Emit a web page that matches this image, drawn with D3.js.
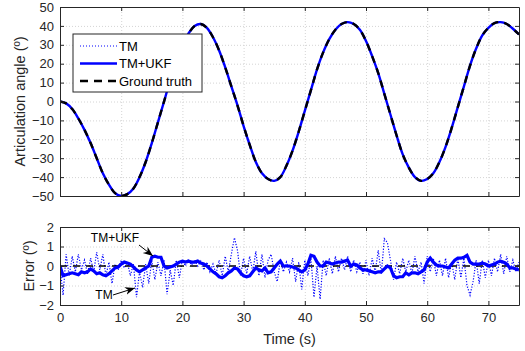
<!DOCTYPE html>
<html>
<head>
<meta charset="utf-8">
<script src="https://cdn.jsdelivr.net/npm/d3@7"></script>
<style>
  body { margin: 0; background: #fff; }
  svg { font-family: "Liberation Sans", Arial, sans-serif; }
  .axis path, .axis line { stroke: #262626; }
  .axis text { fill: #262626; font-size: 13px; }
  .grid line { stroke: #d4d4d4; stroke-dasharray: 1,2; }
  .grid path { display: none; }
</style>
</head>
<body>
<div id="chart"></div>
<script>
// time base for the articulation angle (1 s) and the error traces (0.5 s)
const angleTime = d3.range(0, 76, 1)
const errTime = d3.range(0, 75.5, 0.5)

// ground truth articulation angle (deg), one value per second
const groundTruth = [
  0, -1, -4, -9, -15, -22, -30, -38, -44, -48.5,
  -50, -49, -46, -40, -32, -22, -11, 0, 11, 21,
  30, 36, 40, 41, 39, 34, 27, 18, 8, -2,
  -13, -23, -32, -38, -41, -42, -40, -34, -26, -16,
  -5, 6, 17, 26, 33, 38, 41, 42, 41, 38,
  32, 24, 15, 4, -7, -18, -28, -35, -40, -42,
  -41, -38, -32, -24, -14, -3, 8, 19, 28, 35,
  39, 41.5, 42, 41, 38.5, 35.5
]

// TM error (deg), every 0.5 s
const tmErr = [
  0.0, -1.5, 0.6, -0.5, 0.5, -0.3, 0.6, -0.2, 0.3, -0.4,
  0.4, -0.3, 0.7, -0.2, 0.6, -0.5, 0.2, -0.9, 0.1, -0.2,
  0.3, -0.1, 0.2, -0.5, 0.1, -1.6, -0.3, -1.1, 0.1, -0.9,
  0.3, -0.7, 0.2, -0.5, 0.3, -1.45, -0.2, -1.0, 0.3, -0.6,
  0.3, 0.0, 0.35, 0.05, 0.3, 0.0, 0.25, -0.2, 0.2, -0.3,
  0.1, -0.4, 0.3, -0.5, 0.5, -0.3, 0.6, 1.45, 0.8, -0.5,
  0.4, -0.4, 0.5, -0.3, 0.75, -0.5, 0.6, -0.6, 0.3, 0.6,
  -0.3, -0.8, 0.3, -0.3, 0.2, -0.3, 0.4, -0.8, 0.2, -1.2,
  0.3, -0.5, 0.4, -1.6, 0.0, -1.7, 0.3, -0.5, 0.4, -0.4,
  0.5, -0.3, 0.4, -0.2, 0.5, -0.3, 0.3, -0.3, 0.2, -0.4,
  0.3, -0.5, 0.4, -0.3, 0.8, -0.4, 1.4, 1.2, 0.3, -0.7,
  0.2, -0.4, 0.4, -0.3, 0.3, -0.4, 0.5, -0.3, 0.2, -0.9,
  0.5, -0.3, 0.4, -0.5, 0.3, -0.5, 0.4, -0.6, 0.2, -0.7,
  0.4, -0.6, 0.4, -1.0, -1.5, -0.8, 0.3, -0.9, 0.3, -0.6,
  0.3, -0.5, 0.4, -0.3, 0.6, -0.4, 0.5, -0.3, 0.3, -0.3,
  0.2
]

// TM+UKF error (deg), every 0.5 s
const ukfErr = [
  0.0, -0.5, -0.45, -0.4, -0.35, -0.4, -0.45, -0.3, -0.35, -0.3,
  -0.15, -0.25, -0.4, -0.35, -0.45, -0.5, -0.4, -0.25, -0.1, -0.05,
  0.1, 0.2, 0.15, 0.1, -0.05, -0.2, -0.3, -0.2, -0.1, 0.0,
  0.45, 0.5, 0.45, 0.45, 0.0, -0.1, -0.05, 0.0, 0.1, 0.2,
  0.25, 0.2, 0.25, 0.2, 0.2, 0.25, 0.15, 0.1, 0.0, -0.15,
  -0.3, -0.4, -0.55, -0.6, -0.5, -0.35, -0.25, -0.1, -0.15, -0.35,
  -0.5, -0.55, -0.5, -0.3, -0.1, -0.2, -0.25, -0.1, -0.35, -0.3,
  -0.1, 0.1, 0.25, 0.0, 0.0, 0.0, -0.05, -0.1, -0.2, -0.3,
  -0.2, 0.1, 0.55, 0.5, 0.2, 0.0, 0.0, 0.2, 0.15, 0.1,
  0.15, 0.2, 0.2, 0.25, 0.3, 0.0, 0.1, 0.05, -0.1, -0.2,
  -0.2, -0.25, -0.3, -0.35, -0.3, -0.3, -0.15, 0.0, -0.1, -0.5,
  -0.6, -0.55, -0.55, -0.35, -0.45, -0.35, -0.35, -0.4, -0.3, -0.2,
  0.2, 0.4, 0.2, 0.05, 0.0, 0.0, -0.05, -0.1, 0.1, 0.3,
  0.4, 0.4, 0.45, 0.55, 0.2, 0.1, 0.1, 0.1, 0.15, 0.1,
  0.0, 0.05, 0.1, 0.2, 0.25, 0.2, 0.1, -0.1, -0.1, -0.15,
  -0.2
]

const xTicks = [0, 10, 20, 30, 40, 50, 60, 70]
const angleTicks = [-50, -40, -30, -20, -10, 0, 10, 20, 30, 40, 50]
const errTicks = [-2, -1, 0, 1, 2]
const legendLabels = ['TM', 'TM+UKF', 'Ground truth']

const W = 525, H = 351
const blue = '#0000ff'

let svg = d3.select('#chart').append('svg')
    .attr('width', W)
    .attr('height', H)

let x = d3.scaleLinear().domain([0, 75]).range([60, 519])
let yA = d3.scaleLinear().domain([-50, 50]).range([196, 7])
let yE = d3.scaleLinear().domain([-2, 2]).range([305, 227])

function panel(y, yTicks, clipId) {
    let top = y.range()[1], bottom = y.range()[0]
    let left = x.range()[0], right = x.range()[1]
    // grid
    svg.append('g').attr('class', 'grid')
        .attr('transform', `translate(0,${bottom})`)
        .call(d3.axisBottom(x).tickValues(xTicks).tickSize(-(bottom - top)).tickFormat(''))
    svg.append('g').attr('class', 'grid')
        .attr('transform', `translate(${left},0)`)
        .call(d3.axisLeft(y).tickValues(yTicks).tickSize(-(right - left)).tickFormat(''))
    svg.append('clipPath').attr('id', clipId)
        .append('rect')
        .attr('x', left).attr('y', top)
        .attr('width', right - left).attr('height', bottom - top)
    return svg.append('g').attr('clip-path', `url(#${clipId})`)
}

function frame(y, yTicks, showX) {
    let top = y.range()[1], bottom = y.range()[0]
    let left = x.range()[0], right = x.range()[1]
    let bx = svg.append('g').attr('class', 'axis')
        .attr('transform', `translate(0,${bottom})`)
        .call(d3.axisBottom(x).tickValues(xTicks).tickSize(-4).tickSizeOuter(0).tickPadding(8))
    if (!showX) bx.selectAll('text').remove()
    svg.append('g').attr('class', 'axis')
        .attr('transform', `translate(0,${top})`)
        .call(d3.axisTop(x).tickValues(xTicks).tickSize(-4).tickSizeOuter(0).tickFormat(''))
    svg.append('g').attr('class', 'axis')
        .attr('transform', `translate(${left},0)`)
        .call(d3.axisLeft(y).tickValues(yTicks).tickSize(-4).tickSizeOuter(0).tickPadding(6).tickFormat(d3.format('d')))
    svg.append('g').attr('class', 'axis')
        .attr('transform', `translate(${right},0)`)
        .call(d3.axisRight(y).tickValues(yTicks).tickSize(-4).tickSizeOuter(0).tickFormat(''))
    svg.selectAll('.axis .domain').attr('stroke-width', 1)
    svg.selectAll('.axis text').attr('font-size', 13).attr('font-family', '"Liberation Sans", Arial, sans-serif')
}

// --- top panel: articulation angle
let gA = panel(yA, angleTicks, 'clipA')
let angleLine = d3.line()
    .x((d, i) => x(angleTime[i]))
    .y(d => yA(d))
    .curve(d3.curveCatmullRom)
gA.append('path').datum(groundTruth)
    .attr('d', angleLine).attr('fill', 'none')
    .attr('stroke', blue).attr('stroke-width', 1).attr('stroke-dasharray', '1,2')
gA.append('path').datum(groundTruth)
    .attr('d', angleLine).attr('fill', 'none')
    .attr('stroke', blue).attr('stroke-width', 2.4)
gA.append('path').datum(groundTruth)
    .attr('d', angleLine).attr('fill', 'none')
    .attr('stroke', '#000').attr('stroke-width', 2.4).attr('stroke-dasharray', '7,6')
frame(yA, angleTicks, false)

// --- bottom panel: error
let gE = panel(yE, errTicks, 'clipE')
let errLine = d3.line()
    .x((d, i) => x(errTime[i]))
    .y(d => yE(d))
gE.append('path').datum(tmErr)
    .attr('d', errLine).attr('fill', 'none')
    .attr('stroke', blue).attr('stroke-width', 1.2).attr('stroke-dasharray', '1.2,1.6')
gE.append('path').datum(errTime.map(() => 0))
    .attr('d', errLine).attr('fill', 'none')
    .attr('stroke', '#000').attr('stroke-width', 1.6).attr('stroke-dasharray', '7,6')
gE.append('path').datum(ukfErr)
    .attr('d', errLine).attr('fill', 'none')
    .attr('stroke', blue).attr('stroke-width', 3.2)
frame(yE, errTicks, true)

// axis labels
svg.append('text')
    .attr('transform', `translate(25,${yA(0)}) rotate(-90)`)
    .attr('text-anchor', 'middle')
    .attr('fill', '#262626').attr('font-size', 14.5)
    .text('Articulation angle (º)')
svg.append('text')
    .attr('transform', `translate(34,${yE(0)}) rotate(-90)`)
    .attr('text-anchor', 'middle')
    .attr('fill', '#262626').attr('font-size', 14.5)
    .text('Error (º)')
svg.append('text')
    .attr('x', x(37.5)).attr('y', 344)
    .attr('text-anchor', 'middle')
    .attr('fill', '#262626').attr('font-size', 14.5)
    .text('Time (s)')

// legend
let leg = svg.append('g')
leg.append('rect')
    .attr('x', 73).attr('y', 34).attr('width', 129).attr('height', 58)
    .attr('fill', '#fff').attr('stroke', '#262626').attr('stroke-width', 1)
let legStyles = [
    { c: blue, w: 1, dash: '1,2' },
    { c: blue, w: 2.4, dash: null },
    { c: '#000', w: 2.4, dash: '8,6' }
]
legendLabels.forEach((lab, i) => {
    let ly = 46 + i * 17.5
    leg.append('line')
        .attr('x1', 80).attr('x2', 117).attr('y1', ly).attr('y2', ly)
        .attr('stroke', legStyles[i].c).attr('stroke-width', legStyles[i].w)
        .attr('stroke-dasharray', legStyles[i].dash)
    leg.append('text')
        .attr('x', 119).attr('y', ly + 4.5)
        .attr('fill', '#000').attr('font-size', 13)
        .text(lab)
})

// annotations
let defs = svg.append('defs')
defs.append('marker')
    .attr('id', 'arr')
    .attr('viewBox', '0 0 10 10')
    .attr('refX', 10).attr('refY', 5)
    .attr('markerWidth', 10).attr('markerHeight', 10)
    .attr('markerUnits', 'userSpaceOnUse')
    .attr('orient', 'auto')
    .append('path').attr('d', 'M0,1 L10,5 L0,9 L3,5 Z').attr('fill', '#000')

svg.append('text').attr('x', 115).attr('y', 242)
    .attr('text-anchor', 'middle').attr('font-size', 12).attr('fill', '#000')
    .text('TM+UKF')
svg.append('line')
    .attr('x1', 139).attr('y1', 245).attr('x2', 153).attr('y2', 256)
    .attr('stroke', '#000').attr('stroke-width', 1).attr('marker-end', 'url(#arr)')
svg.append('text').attr('x', 104).attr('y', 299)
    .attr('text-anchor', 'middle').attr('font-size', 12).attr('fill', '#000')
    .text('TM')
svg.append('line')
    .attr('x1', 113).attr('y1', 295).attr('x2', 135).attr('y2', 288)
    .attr('stroke', '#000').attr('stroke-width', 1).attr('marker-end', 'url(#arr)')
</script>
</body>
</html>
